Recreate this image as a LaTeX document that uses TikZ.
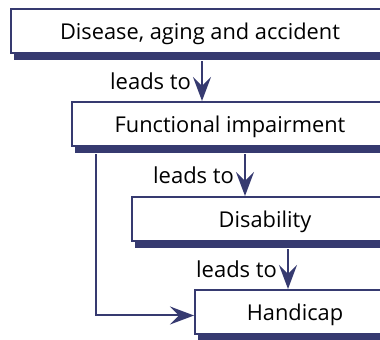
\documentclass[tikz,border=0pt]{standalone}
\usepackage{fontspec}
\setmainfont{Open Sans}
\usetikzlibrary{arrows.meta, positioning, shadows}
\definecolor{navy}{RGB}{54,58,112}

\begin{document}
\begin{tikzpicture}[node distance=2cm,on grid,>={Stealth[length=12pt,width=9pt,inset=4.5pt]},
      box/.style={draw=navy,line width=1pt,fill=white,minimum height=22pt,inner sep=0pt,
        text height=9.5pt,text depth=0.5pt,font=\fontsize{10.9}{12}\selectfont,
        drop shadow={shadow xshift=1.5pt,shadow yshift=-3.7pt,fill=navy,opacity=1}},
      link/.style={->,draw=navy,line width=1pt},
      lbl/.style={left=5pt,font=\fontsize{11}{12}\selectfont,inner sep=0pt}]
      \useasboundingbox (0,0) rectangle (190pt,-170pt);
      \clip (0,0) rectangle (190pt,-170pt);
      \node[box,minimum width=189pt] (disease) at (100pt,-15.5pt) {Disease, aging and accident};
      \node[box,minimum width=158pt] (impair) [below right=46.5pt and 15pt of disease] {Functional impairment};
      \node[box,minimum width=133pt] (disab) [below right=47.5pt and 17.5pt of impair] {Disability};
      \node[box,minimum width=100pt] (handi) [below right=46.5pt and 15pt of disab] {Handicap};
      \draw[link] ([xshift=1pt,yshift=-3.7pt]disease.south) -- ([xshift=1pt]disease.south |- impair.north)
        node[lbl,midway] {leads to};
      \draw[link] ([xshift=7.5pt,yshift=-3.7pt]impair.south) -- ([xshift=7.5pt]impair.south |- disab.north)
        node[lbl,midway] {leads to};
      \draw[link] ([xshift=11.5pt,yshift=-3.7pt]disab.south) -- ([xshift=11.5pt]disab.south |- handi.north)
        node[lbl,midway] {leads to};
      \draw[link] ([xshift=12.5pt,yshift=-3.7pt]impair.south west) |- ([yshift=-1.75pt]handi.west);
    \end{tikzpicture}
\end{document}
